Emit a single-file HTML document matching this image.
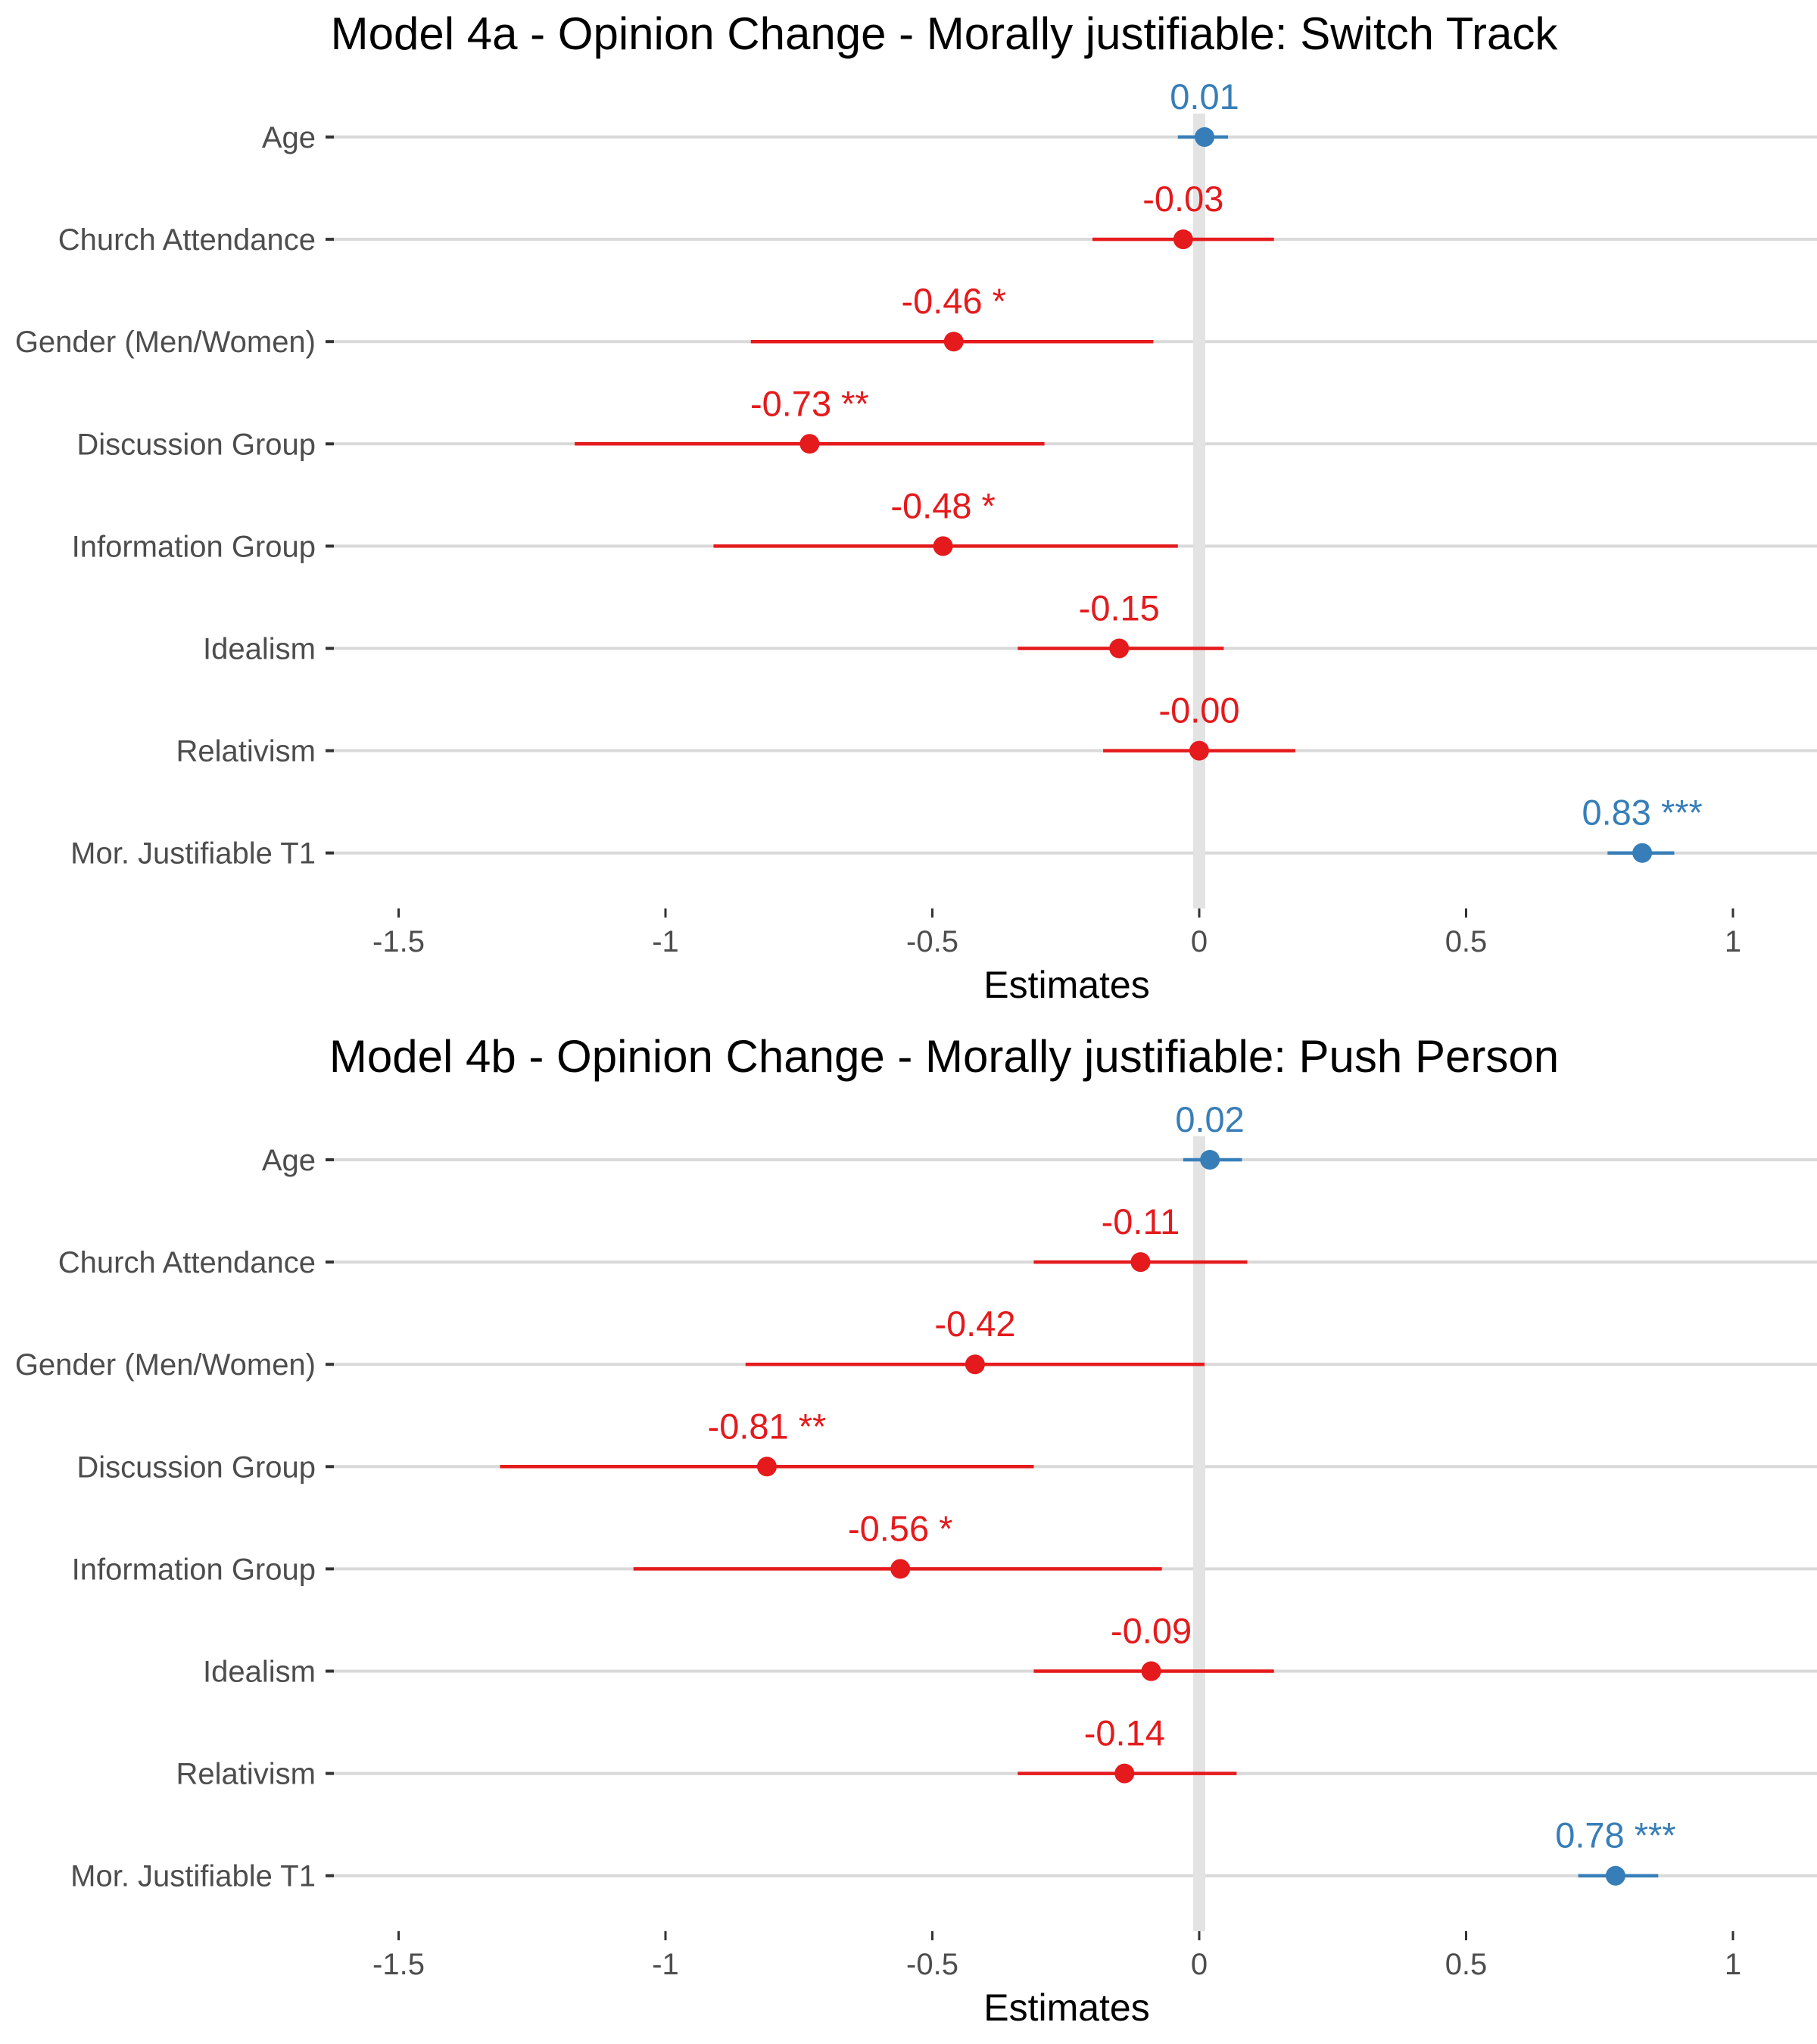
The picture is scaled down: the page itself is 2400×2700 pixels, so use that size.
<!DOCTYPE html>
<html><head><meta charset="utf-8"><style>
html,body{margin:0;padding:0;background:#fff}
svg{display:block;font-family:"Liberation Sans",Arial,sans-serif}
</style></head><body>
<svg id="chart" width="2400" height="2700" viewBox="0 0 2400 2700"></svg>
<script>
const terms = ["Age","Church Attendance","Gender (Men/Women)","Discussion Group","Information Group","Idealism","Relativism","Mor. Justifiable T1"];
const estA = [0.01,-0.03,-0.46,-0.73,-0.48,-0.15,-0.00,0.83];
const loA  = [-0.04,-0.20,-0.84,-1.17,-0.91,-0.34,-0.18,0.765];
const hiA  = [0.054,0.14,-0.086,-0.29,-0.04,0.046,0.18,0.89];
const labA = ["0.01","-0.03","-0.46 *","-0.73 **","-0.48 *","-0.15","-0.00","0.83 ***"];
const estB = [0.02,-0.11,-0.42,-0.81,-0.56,-0.09,-0.14,0.78];
const loB  = [-0.03,-0.31,-0.85,-1.31,-1.06,-0.31,-0.34,0.71];
const hiB  = [0.08,0.09,0.01,-0.31,-0.07,0.14,0.07,0.86];
const labB = ["0.02","-0.11","-0.42","-0.81 **","-0.56 *","-0.09","-0.14","0.78 ***"];
const ticks = [-1.5,-1,-0.5,0,0.5,1];
const tickLabels = ["-1.5","-1","-0.5","0","0.5","1"];
const titles = ["Model 4a - Opinion Change - Morally justifiable: Switch Track","Model 4b - Opinion Change - Morally justifiable: Push Person"];

const svg = document.getElementById('chart');
const NS = "http://www.w3.org/2000/svg";
function mk(tag, attrs, parent){const e=document.createElementNS(NS,tag);for(const k in attrs)e.setAttribute(k,attrs[k]);(parent||svg).appendChild(e);return e;}
const xs = v => 1584 + 705*v;

function panel(off, idx, est, lo, hi, lab){
  const g = mk('g',{});
  
  
  const yr = i => off + 181 + 135.1*i;
  const t = mk('text',{x:1247,y:off+65,'text-anchor':'middle','font-size':60,fill:'#000'},g);
  t.textContent = titles[idx];
  
  
  terms.forEach((name,i)=>{
    const l = mk('line',{x1:441,x2:2400,y1:yr(i),y2:yr(i),stroke:'#d9d9d9','stroke-width':4},g);
    
    
    const tk = mk('line',{x1:430,x2:441,y1:yr(i),y2:yr(i),stroke:'#333','stroke-width':4},g);
    
    
    const tl = mk('text',{x:417,y:yr(i)+14,'text-anchor':'end','font-size':40,fill:'#4d4d4d'},g);
    tl.textContent = name;
    
    
  });
  const zl = mk('line',{x1:xs(0),x2:xs(0),y1:off+150,y2:off+1200,stroke:'#e3e3e3','stroke-width':16},g);
  
  
  ticks.forEach((v,i)=>{
    const tk = mk('line',{x1:xs(v),x2:xs(v),y1:off+1200,y2:off+1212,stroke:'#333','stroke-width':3},g);
    
    
    const tl = mk('text',{x:xs(v),y:off+1257,'text-anchor':'middle','font-size':40,fill:'#4d4d4d'},g);
    tl.textContent = tickLabels[i];
    
    
  });
  const at = mk('text',{x:1409,y:off+1318,'text-anchor':'middle','font-size':50,fill:'#000'},g);
  at.textContent = 'Estimates';
  
  
  est.forEach((v,i)=>{
    const col = v>0 ? '#377eb8' : '#e41a1c';
    const eb = mk('line',{x1:xs(lo[i]),x2:xs(hi[i]),y1:yr(i),y2:yr(i),stroke:col,'stroke-width':4.5},g);
    
    
    const p = mk('circle',{cx:xs(v),cy:yr(i),r:13,fill:col},g);
    
    
    const vl = mk('text',{x:xs(v),y:yr(i)-37,'text-anchor':'middle','font-size':47,fill:col},g);
    vl.textContent = lab[i];
    
    
  });
}
panel(0,0,estA,loA,hiA,labA);
panel(1351,1,estB,loB,hiB,labB);
</script>
</body></html>
